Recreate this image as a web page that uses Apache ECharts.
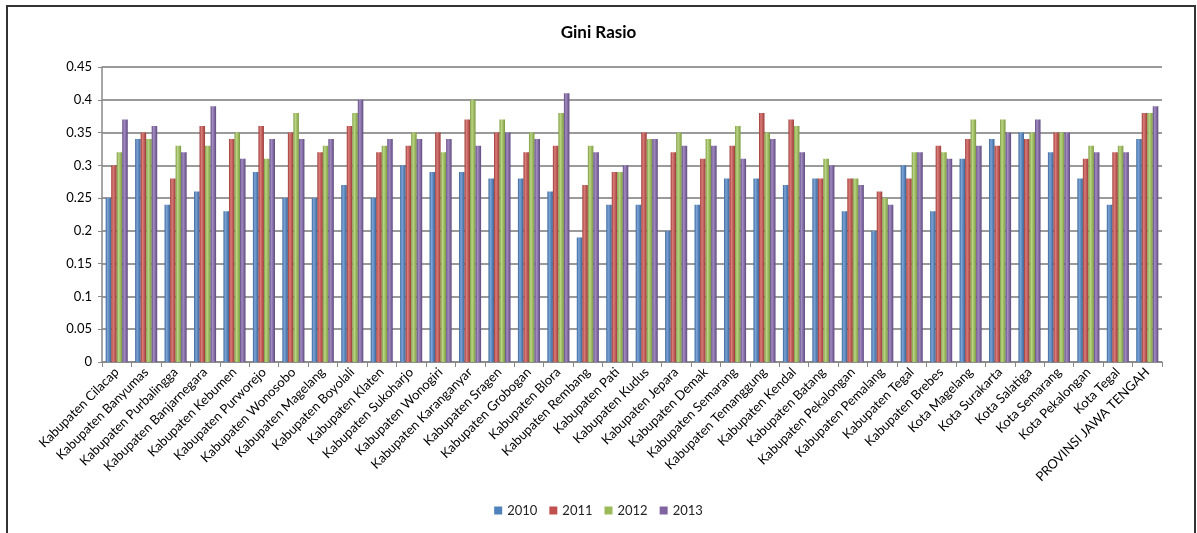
<!DOCTYPE html>
<html>
<head>
<meta charset="utf-8">
<title>Gini Rasio</title>
<script src="https://cdn.jsdelivr.net/npm/echarts@6/dist/echarts.min.js"></script>
<style>
  html, body { margin: 0; padding: 0; background: #fff; }
  #chart { width: 1197px; height: 533px; }
</style>
</head>
<body>
<div id="chart"></div>
<script>
// kabupaten / kota names
var regions = [
  'Kabupaten Cilacap', 'Kabupaten Banyumas', 'Kabupaten Purbalingga', 'Kabupaten Banjarnegara',
  'Kabupaten Kebumen', 'Kabupaten Purworejo', 'Kabupaten Wonosobo', 'Kabupaten Magelang',
  'Kabupaten Boyolali', 'Kabupaten Klaten', 'Kabupaten Sukoharjo', 'Kabupaten Wonogiri',
  'Kabupaten Karanganyar', 'Kabupaten Sragen', 'Kabupaten Grobogan', 'Kabupaten Blora',
  'Kabupaten Rembang', 'Kabupaten Pati', 'Kabupaten Kudus', 'Kabupaten Jepara',
  'Kabupaten Demak', 'Kabupaten Semarang', 'Kabupaten Temanggung', 'Kabupaten Kendal',
  'Kabupaten Batang', 'Kabupaten Pekalongan', 'Kabupaten Pemalang', 'Kabupaten Tegal',
  'Kabupaten Brebes', 'Kota Magelang', 'Kota Surakarta', 'Kota Salatiga',
  'Kota Semarang', 'Kota Pekalongan', 'Kota Tegal', 'PROVINSI JAWA TENGAH'
]

var years = ['2010', '2011', '2012', '2013']

var gini2010 = [0.25, 0.34, 0.24, 0.26, 0.23, 0.29, 0.25, 0.25, 0.27, 0.25, 0.30, 0.29,
  0.29, 0.28, 0.28, 0.26, 0.19, 0.24, 0.24, 0.20, 0.24, 0.28, 0.28, 0.27,
  0.28, 0.23, 0.20, 0.30, 0.23, 0.31, 0.34, 0.35, 0.32, 0.28, 0.24, 0.34]
var gini2011 = [0.30, 0.35, 0.28, 0.36, 0.34, 0.36, 0.35, 0.32, 0.36, 0.32, 0.33, 0.35,
  0.37, 0.35, 0.32, 0.33, 0.27, 0.29, 0.35, 0.32, 0.31, 0.33, 0.38, 0.37,
  0.28, 0.28, 0.26, 0.28, 0.33, 0.34, 0.33, 0.34, 0.35, 0.31, 0.32, 0.38]
var gini2012 = [0.32, 0.34, 0.33, 0.33, 0.35, 0.31, 0.38, 0.33, 0.38, 0.33, 0.35, 0.32,
  0.40, 0.37, 0.35, 0.38, 0.33, 0.29, 0.34, 0.35, 0.34, 0.36, 0.35, 0.36,
  0.31, 0.28, 0.25, 0.32, 0.32, 0.37, 0.37, 0.35, 0.35, 0.33, 0.33, 0.38]
var gini2013 = [0.37, 0.36, 0.32, 0.39, 0.31, 0.34, 0.34, 0.34, 0.40, 0.34, 0.34, 0.34,
  0.33, 0.35, 0.34, 0.41, 0.32, 0.30, 0.34, 0.33, 0.33, 0.31, 0.34, 0.32,
  0.30, 0.27, 0.24, 0.32, 0.31, 0.33, 0.35, 0.37, 0.35, 0.32, 0.32, 0.39]

var yTicks = [0, 0.05, 0.1, 0.15, 0.2, 0.25, 0.3, 0.35, 0.4, 0.45]

var seriesData = [gini2010, gini2011, gini2012, gini2013]
var colors = ['#4F81BD', '#C0504D', '#9BBB59', '#8064A2']
var edges = ['#3A6599', '#9B3B38', '#7A9A3E', '#5F4A80']
var lights = ['#7BA3D6', '#DA7C79', '#BCD585', '#A38CC2']

var chart = echarts.init(document.getElementById('chart'))

var series = years.map(function (y, i) {
  return {
    name: y,
    type: 'bar',
    data: seriesData[i],
    barGap: '0%',
    barCategoryGap: '25%',
    animation: false,
    itemStyle: {
      color: new echarts.graphic.LinearGradient(0, 0, 1, 0, [
        { offset: 0, color: edges[i] },
        { offset: 0.35, color: lights[i] },
        { offset: 1, color: edges[i] }
      ])
    }
  }
})

chart.setOption({
  color: colors,
  textStyle: { fontFamily: 'Lato, "Open Sans", sans-serif' },
  title: {
    text: 'Gini Rasio',
    left: 'center',
    top: 19,
    textStyle: { fontSize: 17, fontWeight: 'bold', color: '#000', fontFamily: 'Lato, sans-serif' }
  },
  legend: {
    data: years.map(function (y, i) { return { name: y, itemStyle: { color: colors[i] } } }),
    bottom: 11,
    left: 'center',
    itemWidth: 8,
    itemHeight: 8,
    itemGap: 12,
    icon: 'rect',
    textStyle: { fontSize: 13, color: '#222' }
  },
  grid: { left: 102, right: 35, top: 67, bottom: 171 },
  xAxis: {
    type: 'category',
    data: regions,
    axisLine: { lineStyle: { color: '#888', width: 1.5 } },
    axisTick: { show: true, alignWithLabel: false, length: 5, lineStyle: { color: '#888' } },
    axisLabel: { rotate: 45, interval: 0, fontSize: 13, color: '#000', margin: 8 }
  },
  yAxis: {
    type: 'value',
    min: yTicks[0],
    max: yTicks[yTicks.length - 1],
    interval: 0.05,
    axisLine: { show: true, lineStyle: { color: '#888', width: 1.5 } },
    axisTick: { show: true, length: 4, lineStyle: { color: '#888' } },
    axisLabel: { fontSize: 13, color: '#000', margin: 10 },
    splitLine: { lineStyle: { color: '#9a9a9a', width: 2 } }
  },
  graphic: [{
    type: 'rect',
    shape: { x: 7, y: 6, width: 1188, height: 540 },
    style: { fill: 'none', stroke: '#333', lineWidth: 2 },
    silent: true
  }],
  series: series
})
</script>
</body>
</html>
